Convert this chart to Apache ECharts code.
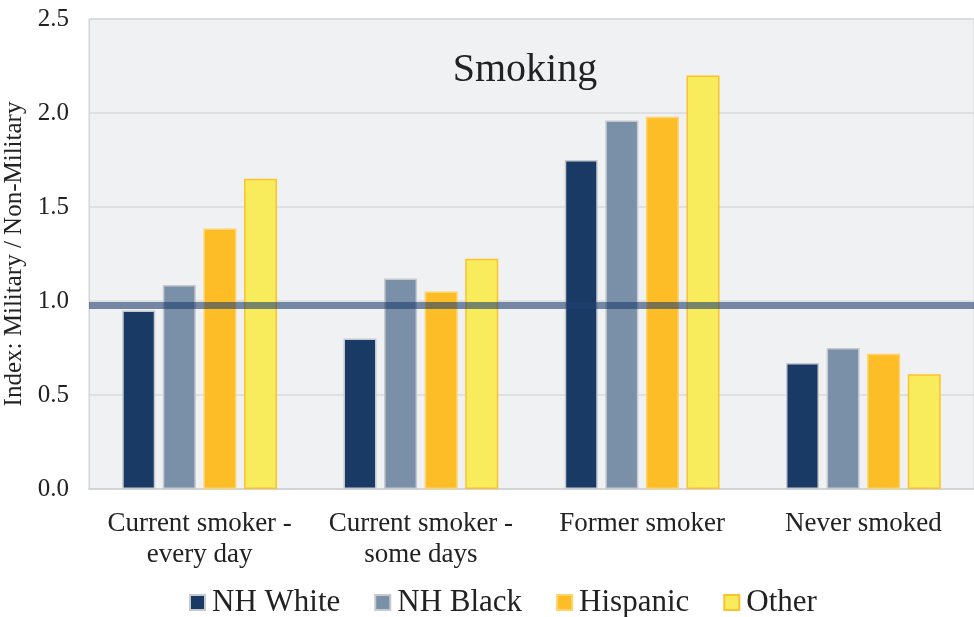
<!DOCTYPE html>
<html>
<head>
<meta charset="utf-8">
<script src="https://cdn.jsdelivr.net/npm/echarts@6/dist/echarts.min.js"></script>
<style>
  html, body { margin: 0; padding: 0; background: #fff; }
  #main { width: 974px; height: 617px; }
</style>
</head>
<body>
<div id="main"></div>
<script>
// categories and values
var categories = ['Current smoker -\nevery day', 'Current smoker -\nsome days', 'Former smoker', 'Never smoked'];
var nhWhite = [0.95, 0.80, 1.75, 0.67];
var nhBlack = [1.085, 1.12, 1.96, 0.75];
var hispanic = [1.385, 1.05, 1.98, 0.72];
var other = [1.65, 1.225, 2.20, 0.61];
var refLine = 0.98;

var font = 'Liberation Serif';

function barSeries(name, data, color, border) {
   return {
      name: name,
      type: 'bar',
      barWidth: 33,
      barGap: '23%',
      data: data,
      itemStyle: {
         color: color,
         borderColor: border,
         borderWidth: 1.5
      }
   };
}

var series = [
   barSeries('NH White', nhWhite, '#1a3a66', '#c5c8cd'),
   barSeries('NH Black', nhBlack, '#7a8fa8', '#c5c8cd'),
   barSeries('Hispanic', hispanic, '#fdbd27', '#fdd36a'),
   barSeries('Other', other, '#f8eb5c', '#fbc12e')
];
// 参考线
series[3].markLine = {
   silent: true,
   symbol: 'none',
   label: { show: false },
   lineStyle: { color: 'rgba(31,63,110,0.6)', width: 7, type: 'solid' },
   data: [{ yAxis: refLine }]
};

var chart = echarts.init(document.getElementById('main'));
chart.setOption({
   animation: false,
   backgroundColor: '#ffffff',
   textStyle: { fontFamily: font, color: '#222' },
   title: {
      text: 'Smoking',
      left: 520,
      top: 45,
      textAlign: 'center',
      textStyle: { fontFamily: font, fontSize: 40, fontWeight: 'normal', color: '#222' }
   },
   legend: {
      left: 184,
      top: 582,
      icon: 'rect',
      itemWidth: 15,
      itemHeight: 15,
      itemGap: 34,
      textStyle: { fontFamily: font, fontSize: 31, color: '#222', padding: [0, 0, 0, 2] },
      data: ['NH White', 'NH Black', 'Hispanic', 'Other']
   },
   grid: {
      left: 89,
      right: 0,
      top: 19,
      bottom: 128,
      outerBoundsMode: 'none',
      containLabel: false,
      show: true,
      backgroundColor: '#f0f1f3',
      borderColor: '#d3d4d7',
      borderWidth: 1
   },
   xAxis: {
      type: 'category',
      data: categories,
      axisTick: { show: false },
      axisLine: { lineStyle: { color: '#d3d4d7', width: 2 } },
      axisLabel: {
         interval: 0,
         fontFamily: font,
         fontSize: 27,
         color: '#222',
         lineHeight: 31,
         margin: 19
      }
   },
   yAxis: {
      type: 'value',
      min: 0,
      max: 2.5,
      interval: 0.5,
      name: 'Index: Military / Non-Military',
      nameLocation: 'middle',
      nameGap: 59,
      nameTextStyle: { fontFamily: font, fontSize: 25, color: '#222' },
      axisLine: { show: true, lineStyle: { color: '#d3d4d7' } },
      axisTick: { show: false },
      splitLine: { lineStyle: { color: '#d9dadd', width: 1.5 } },
      axisLabel: {
         fontFamily: font,
         fontSize: 25,
         color: '#222',
         margin: 20,
         formatter: function (v) { return v.toFixed(1); }
      }
   },
   series: series
});
</script>
</body>
</html>
